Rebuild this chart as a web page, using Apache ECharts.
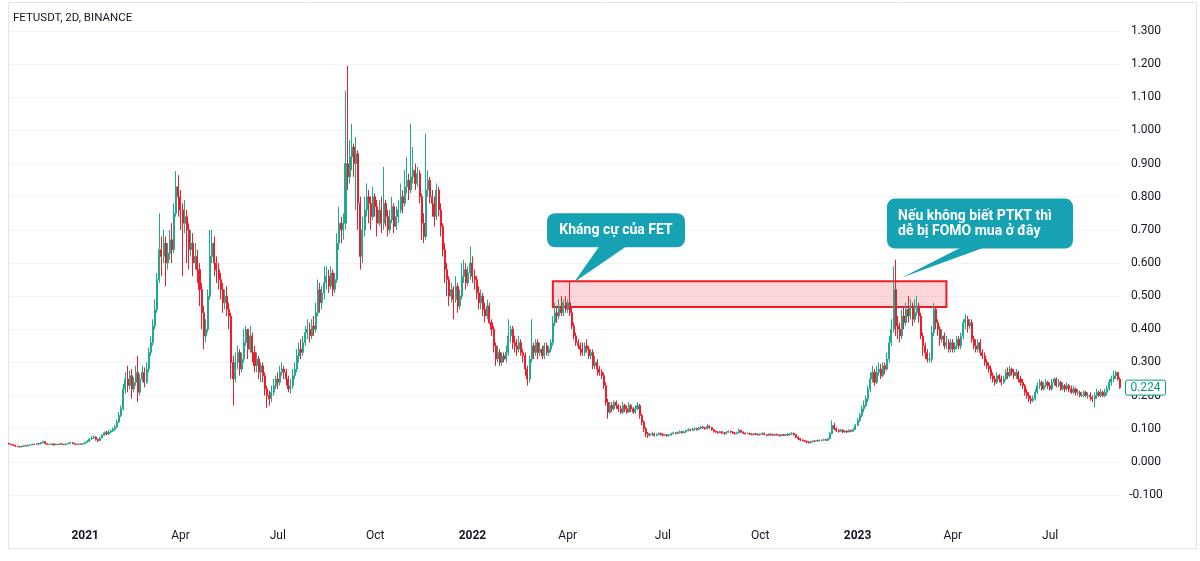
<!DOCTYPE html>
<html><head><meta charset="utf-8">
<script src="https://cdn.jsdelivr.net/npm/echarts@6/dist/echarts.min.js"></script>
<style>html,body{margin:0;padding:0;background:#fff}#c{width:1200px;height:561px}</style>
</head><body><div id="c"></div>
<script>
// ---------------- data ----------------
const chartTitle = 'FETUSDT, 2D, BINANCE';
const startDate = [2020, 9, 21];      // first 2-day candle (UTC y, m0, d)
const stepDays = 2;
const firstOpen = 0.056;
// each candle: [close, low, high]; open = previous close
const candles = [
[.054,.052,.057],[.052,.050,.055],[.050,.048,.053],[.047,.045,.051],[.046,.044,.048],
[.045,.043,.047],[.047,.044,.049],[.049,.046,.051],[.048,.047,.051],[.050,.047,.052],
[.051,.049,.053],[.053,.050,.055],[.052,.051,.055],[.055,.051,.057],[.054,.052,.057],
[.058,.053,.060],[.061,.056,.064],[.055,.053,.062],[.052,.051,.056],[.053,.050,.055],
[.054,.052,.056],[.051,.050,.055],[.053,.050,.055],[.052,.051,.054],[.055,.051,.057],
[.053,.052,.056],[.052,.050,.054],[.054,.051,.056],[.056,.053,.058],[.058,.055,.061],
[.055,.053,.059],[.053,.052,.056],[.052,.051,.054],[.054,.051,.056],[.053,.052,.055],
[.055,.052,.057],[.058,.054,.061],[.062,.057,.066],[.069,.060,.072],[.072,.066,.078],
[.075,.069,.080],[.068,.064,.077],[.064,.060,.070],[.072,.063,.075],[.080,.071,.084],
[.088,.078,.092],[.084,.080,.094],[.090,.082,.096],[.093,.087,.098],[.098,.090,.104],
[.105,.094,.112],[.120,.102,.128],[.140,.118,.150],[.160,.135,.170],[.220,.155,.235],
[.250,.205,.270],[.230,.210,.290],[.260,.220,.275],[.220,.190,.280],[.240,.210,.255],
[.270,.230,.290],[.210,.180,.320],[.250,.200,.265],[.270,.240,.290],[.240,.225,.285],
[.280,.235,.300],[.330,.270,.345],[.360,.320,.380],[.410,.350,.430],[.460,.400,.490],
[.550,.450,.570],[.640,.540,.750],[.620,.560,.680],[.660,.600,.700],[.600,.530,.680],
[.630,.580,.660],[.670,.610,.700],[.640,.600,.720],[.750,.630,.780],[.830,.740,.877],
[.800,.740,.865],[.760,.700,.820],[.720,.560,.780],[.740,.690,.790],[.700,.600,.760],
[.640,.580,.720],[.660,.620,.700],[.600,.560,.690],[.620,.580,.660],[.580,.540,.640],
[.520,.470,.600],[.450,.400,.540],[.380,.340,.470],[.400,.360,.430],[.500,.390,.520],
[.620,.490,.700],[.660,.600,.700],[.600,.560,.680],[.580,.540,.620],[.550,.520,.600],
[.520,.490,.570],[.480,.450,.540],[.500,.460,.520],[.460,.440,.530],[.440,.400,.480],
[.300,.250,.450],[.250,.170,.320],[.300,.240,.330],[.330,.280,.350],[.280,.260,.340],
[.310,.270,.330],[.360,.300,.400],[.400,.350,.410],[.340,.310,.400],[.380,.330,.410],
[.330,.300,.390],[.290,.270,.350],[.310,.270,.330],[.270,.250,.320],[.290,.240,.300],
[.260,.240,.300],[.220,.200,.270],[.200,.163,.230],[.190,.170,.215],[.210,.180,.230],
[.230,.200,.250],[.250,.220,.260],[.240,.220,.270],[.270,.230,.290],[.280,.260,.300],
[.270,.250,.290],[.250,.230,.280],[.220,.210,.260],[.230,.205,.250],[.260,.220,.280],
[.280,.250,.300],[.320,.270,.340],[.340,.300,.360],[.330,.310,.370],[.360,.320,.380],
[.390,.350,.410],[.400,.370,.430],[.380,.360,.420],[.410,.370,.430],[.400,.380,.440],
[.450,.390,.480],[.520,.440,.550],[.480,.450,.540],[.510,.460,.530],[.540,.490,.590],
[.560,.520,.590],[.530,.510,.580],[.570,.520,.590],[.520,.500,.580],[.550,.510,.570],
[.660,.540,.690],[.720,.640,.770],[.700,.660,.740],[.720,.670,.750],[.900,.700,1.120],
[.860,.820,1.195],[.920,.840,.970],[.950,.880,1.020],[.900,.860,.960],[.930,.760,.980],
[.780,.700,.940],[.620,.580,.800],[.700,.600,.740],[.760,.680,.800],[.800,.740,.840],
[.780,.720,.820],[.740,.700,.800],[.800,.730,.830],[.770,.740,.810],[.720,.680,.790],
[.760,.710,.790],[.720,.690,.800],[.780,.700,.890],[.740,.710,.790],[.700,.680,.760],
[.730,.690,.760],[.770,.720,.800],[.710,.690,.780],[.740,.700,.770],[.760,.720,.790],
[.800,.750,.840],[.780,.750,.820],[.830,.770,.880],[.850,.810,.920],[.820,.790,.870],
[.860,.810,1.020],[.880,.840,.950],[.840,.820,.900],[.870,.830,.890],[.800,.780,.880],
[.720,.670,.810],[.680,.660,.750],[.820,.670,.990],[.850,.800,.880],[.800,.780,.860],
[.780,.740,.820],[.740,.710,.800],[.820,.730,.840],[.760,.740,.830],[.710,.680,.780],
[.640,.620,.720],[.580,.540,.660],[.550,.500,.600],[.500,.470,.560],[.520,.480,.540],
[.490,.430,.530],[.530,.480,.560],[.470,.450,.540],[.500,.460,.520],[.560,.490,.600],
[.580,.540,.610],[.540,.520,.600],[.570,.530,.590],[.600,.550,.650],[.560,.540,.620],
[.550,.520,.580],[.510,.490,.560],[.480,.460,.530],[.500,.460,.520],[.460,.440,.510],
[.440,.420,.480],[.470,.430,.490],[.420,.415,.480],[.400,.380,.430],[.350,.330,.410],
[.310,.290,.360],[.330,.300,.350],[.300,.290,.340],[.320,.290,.330],[.310,.300,.330],
[.330,.300,.350],[.380,.320,.430],[.400,.360,.410],[.360,.340,.410],[.350,.330,.380],
[.340,.320,.370],[.360,.330,.380],[.330,.320,.370],[.320,.300,.340],[.280,.260,.330],
[.250,.230,.290],[.310,.240,.320],[.350,.300,.430],[.330,.310,.360],[.360,.320,.370],
[.330,.310,.370],[.340,.320,.360],[.320,.310,.350],[.350,.310,.360],[.330,.320,.360],
[.340,.320,.350],[.360,.330,.370],[.420,.350,.440],[.450,.410,.480],[.440,.420,.470],
[.470,.430,.490],[.450,.440,.500],[.480,.440,.490],[.460,.450,.500],[.480,.450,.490],
[.450,.440,.545],[.410,.400,.470],[.380,.370,.420],[.360,.350,.390],[.350,.340,.370],
[.340,.320,.360],[.330,.320,.360],[.350,.320,.360],[.340,.330,.370],[.320,.310,.350],
[.330,.310,.340],[.290,.280,.340],[.300,.280,.320],[.280,.260,.310],[.270,.260,.290],
[.260,.250,.280],[.230,.220,.270],[.180,.170,.240],[.150,.130,.190],[.170,.145,.180],
[.160,.150,.180],[.180,.155,.185],[.170,.160,.185],[.160,.150,.175],[.150,.145,.170],
[.170,.145,.180],[.160,.150,.175],[.150,.145,.170],[.170,.150,.180],[.160,.150,.175],
[.150,.145,.165],[.160,.145,.170],[.170,.155,.180],[.140,.130,.175],[.120,.110,.145],
[.100,.090,.125],[.085,.075,.105],[.080,.072,.090],[.082,.076,.088],[.085,.078,.090],
[.080,.076,.088],[.082,.077,.086],[.086,.080,.089],[.083,.079,.088],[.080,.077,.086],
[.082,.078,.085],[.079,.076,.084],[.081,.077,.084],[.085,.079,.088],[.088,.083,.091],
[.086,.083,.090],[.089,.084,.092],[.091,.086,.095],[.088,.085,.093],[.090,.086,.094],
[.094,.088,.097],[.097,.092,.101],[.095,.092,.100],[.099,.093,.103],[.100,.095,.104],
[.098,.094,.103],[.102,.096,.106],[.105,.099,.109],[.103,.099,.108],[.100,.097,.106],
[.108,.098,.113],[.104,.100,.110],[.097,.094,.106],[.092,.089,.099],[.090,.087,.094],
[.088,.085,.093],[.091,.086,.094],[.087,.084,.093],[.085,.082,.090],[.089,.083,.092],
[.092,.087,.095],[.090,.086,.094],[.087,.084,.092],[.085,.082,.090],[.088,.083,.091],
[.095,.086,.100],[.090,.087,.097],[.087,.084,.092],[.085,.082,.089],[.086,.083,.089],
[.084,.081,.088],[.082,.080,.086],[.085,.080,.087],[.083,.080,.087],[.081,.079,.085],
[.083,.079,.086],[.086,.081,.089],[.082,.080,.088],[.080,.077,.084],[.084,.078,.086],
[.082,.079,.086],[.080,.078,.084],[.083,.078,.085],[.081,.079,.085],[.079,.076,.083],
[.082,.077,.084],[.080,.078,.084],[.083,.078,.085],[.081,.079,.085],[.084,.079,.087],
[.086,.082,.090],[.082,.079,.088],[.075,.071,.084],[.070,.066,.077],[.066,.062,.072],
[.064,.061,.068],[.062,.059,.066],[.060,.057,.064],[.058,.055,.062],[.061,.056,.063],
[.063,.059,.065],[.062,.060,.066],[.065,.061,.067],[.064,.062,.067],[.066,.062,.068],
[.067,.064,.070],[.065,.063,.069],[.070,.064,.073],[.085,.068,.090],[.110,.083,.125],
[.100,.095,.118],[.095,.090,.104],[.092,.088,.098],[.096,.090,.099],[.090,.087,.098],
[.093,.088,.096],[.090,.087,.095],[.095,.089,.098],[.092,.090,.097],[.098,.091,.101],
[.110,.096,.115],[.125,.108,.132],[.140,.120,.148],[.160,.135,.170],[.170,.150,.185],
[.190,.165,.200],[.220,.180,.230],[.250,.210,.270],[.270,.240,.290],[.240,.230,.280],
[.270,.235,.290],[.280,.260,.300],[.260,.250,.295],[.290,.255,.300],[.280,.265,.300],
[.310,.275,.330],[.360,.300,.380],[.400,.350,.430],[.520,.390,.590],[.410,.380,.610],
[.400,.370,.440],[.380,.360,.420],[.440,.370,.460],[.420,.400,.470],[.460,.410,.480],
[.440,.420,.500],[.470,.430,.490],[.430,.410,.480],[.450,.420,.490],[.470,.440,.500],
[.440,.420,.480],[.380,.370,.450],[.350,.320,.390],[.330,.310,.360],[.310,.300,.340],
[.310,.300,.330],[.390,.300,.410],[.460,.380,.480],[.420,.400,.470],[.400,.380,.430],
[.370,.350,.410],[.380,.360,.400],[.350,.340,.390],[.360,.340,.380],[.340,.330,.370],
[.360,.330,.370],[.340,.330,.370],[.350,.330,.360],[.370,.340,.380],[.350,.340,.380],
[.380,.340,.390],[.420,.370,.430],[.430,.400,.445],[.410,.390,.440],[.420,.400,.430],
[.370,.360,.430],[.350,.340,.380],[.340,.330,.370],[.360,.330,.370],[.330,.320,.370],
[.320,.310,.340],[.300,.290,.330],[.290,.280,.310],[.280,.270,.300],[.260,.250,.290],
[.250,.240,.270],[.240,.230,.260],[.260,.235,.270],[.250,.240,.265],[.240,.230,.260],
[.250,.235,.260],[.270,.245,.280],[.260,.250,.285],[.280,.255,.290],[.270,.260,.285],
[.260,.250,.280],[.270,.250,.280],[.250,.240,.275],[.240,.230,.260],[.230,.220,.250],
[.210,.200,.235],[.200,.190,.220],[.190,.180,.210],[.185,.175,.200],[.190,.180,.200],
[.210,.185,.220],[.230,.205,.240],[.240,.220,.250],[.220,.215,.245],[.230,.215,.240],
[.240,.225,.250],[.230,.220,.245],[.220,.215,.240],[.240,.215,.250],[.250,.230,.255],
[.230,.225,.255],[.240,.225,.250],[.220,.215,.245],[.230,.215,.240],[.220,.210,.235],
[.230,.215,.240],[.220,.210,.235],[.210,.205,.230],[.220,.205,.230],[.210,.200,.225],
[.210,.200,.220],[.200,.195,.215],[.200,.195,.210],[.210,.195,.215],[.200,.195,.215],
[.200,.190,.210],[.195,.185,.210],[.190,.180,.200],[.200,.165,.210],[.210,.190,.220],
[.200,.195,.215],[.210,.195,.220],[.200,.195,.215],[.210,.195,.220],[.220,.200,.230],
[.240,.215,.250],[.250,.230,.260],[.260,.240,.275],[.270,.250,.275],[.250,.245,.270],
[.224,.220,.255]
];
const monthNames = ['Jan','Feb','Mar','Apr','May','Jun','Jul','Aug','Sep','Oct','Nov','Dec'];
const priceMin = -0.1, priceMax = 1.3, priceStep = 0.1;
// resistance zone (candle indices and price band)
const zoneFrom = 257, zoneTo = 443, zoneLow = 0.467, zoneHigh = 0.545;
// callouts: anchor candle index, anchor price, text lines
const calloutAnchors = [267, 422];
const calloutPrices = [0.542, 0.556];
const calloutTexts = [['Kháng cự của FET'], ['Nếu không biết PTKT thì', 'dễ bị FOMO mua ở đây']];

// ---------------- build ----------------
const FONT = 'Roboto, "Open Sans", sans-serif';
const UP = '#1fa98f', DOWN = '#ee1d2c';
const dates = candles.map((_, i) => {
  const t = Date.UTC(startDate[0], startDate[1], startDate[2]) + i * stepDays * 86400000;
  return new Date(t).toISOString().slice(0, 10);
});
const ohlc = candles.map((c, i) => {
  const o = i ? candles[i - 1][0] : firstOpen;
  return [o, c[0], Math.min(c[1], o, c[0]), Math.max(c[2], o, c[0])];
});
function isLabel(i) {
  if (i === 0) return false;
  const m = +dates[i].slice(5, 7) - 1, pm = +dates[i - 1].slice(5, 7) - 1;
  return m !== pm && m % 3 === 0;
}

const chart = echarts.init(document.getElementById('c'));
chart.setOption({
  animation: false,
  backgroundColor: '#ffffff',
  grid: { left: 8, right: 79, top: 31, bottom: 66 },
  xAxis: {
    type: 'category', data: dates, boundaryGap: true,
    axisLine: { show: false }, axisTick: { show: false }, splitLine: { show: false },
    axisLabel: {
      interval: (i) => isLabel(i),
      margin: 35, color: '#131722', fontSize: 12, fontFamily: FONT,
      formatter: (v) => {
        const m = +v.slice(5, 7);
        return m === 1 ? '{y|' + v.slice(0, 4) + '}' : monthNames[m - 1];
      },
      rich: { y: { fontWeight: 'bold', fontSize: 12, color: '#131722', fontFamily: FONT } }
    }
  },
  yAxis: {
    type: 'value', position: 'right', min: priceMin, max: priceMax, interval: priceStep,
    axisLine: { show: false }, axisTick: { show: false },
    splitLine: { lineStyle: { color: '#f0f3fa', width: 1 } },
    axisLabel: {
      color: '#131722', fontSize: 12, fontFamily: FONT, align: 'center', margin: 25,
      formatter: (v) => (Math.abs(v) < 1e-9 ? 0 : v).toFixed(3)
    }
  },
  series: [{
    type: 'candlestick', data: ohlc, barWidth: '72%',
    itemStyle: { color: UP, color0: DOWN, borderColor: UP, borderColor0: DOWN, borderWidth: 1 },
    markArea: {
      silent: true,
      itemStyle: { color: 'rgba(244, 67, 84, 0.22)', borderColor: '#ee1c25', borderWidth: 2 },
      data: [[{ xAxis: dates[zoneFrom], yAxis: zoneHigh }, { xAxis: dates[zoneTo], yAxis: zoneLow }]]
    }
  }]
});

// ---------------- annotations (positioned through the chart's own scales) ----------------
const boxLayout = [
  { dx: -27, dy: -69, w: 138, h: 34, b0: 26, b1: 54, align: 'center' },
  { dx: -15, dy: -79, w: 186, h: 50, b0: 61, b1: 85, align: 'left' }
];
const CALLOUT = '#17a2b4';
const g = [];
g.push({ type: 'rect', z: 1, silent: true,
  shape: { x: 8.5, y: 2.5, width: 1188, height: 546 },
  style: { fill: 'none', stroke: '#e0e3eb', lineWidth: 1 } });
g.push({ type: 'text', z: 100, left: 13, top: 12,
  style: { text: chartTitle, fill: '#131722', font: '11.5px ' + FONT } });
calloutAnchors.forEach((idx, k) => {
  const p = chart.convertToPixel({ seriesIndex: 0 }, [dates[idx], calloutPrices[k]]);
  const L = boxLayout[k];
  const bx = p[0] + L.dx, by = p[1] + L.dy;
  g.push({ type: 'polygon', z: 100, silent: true,
    shape: { points: [[p[0], p[1]], [p[0] + L.b0, by + L.h - 2], [p[0] + L.b1, by + L.h - 2]] },
    style: { fill: CALLOUT } });
  g.push({ type: 'rect', z: 100, silent: true,
    shape: { x: bx, y: by, width: L.w, height: L.h, r: 8 },
    style: { fill: CALLOUT } });
  const lines = calloutTexts[k];
  g.push({ type: 'text', z: 101, silent: true,
    x: L.align === 'center' ? bx + L.w / 2 : bx + 11, y: by + L.h / 2,
    style: { text: lines.join('\n'), fill: '#ffffff', font: 'bold 14px ' + FONT,
      textAlign: L.align, textVerticalAlign: 'middle', lineHeight: 15 } });
});
// last price label
const last = ohlc[ohlc.length - 1][1];
const lp = chart.convertToPixel({ seriesIndex: 0 }, [dates[dates.length - 1], last]);
g.push({ type: 'rect', z: 100, silent: true,
  shape: { x: 1125.5, y: lp[1] - 7.5, width: 40, height: 15, r: 2 },
  style: { fill: '#ffffff', stroke: '#089981', lineWidth: 1 } });
g.push({ type: 'text', z: 101, silent: true, x: 1145.5, y: lp[1],
  style: { text: last.toFixed(3), fill: '#089981', font: '12px ' + FONT,
    textAlign: 'center', textVerticalAlign: 'middle' } });
chart.setOption({ graphic: g });
</script>
</body></html>
